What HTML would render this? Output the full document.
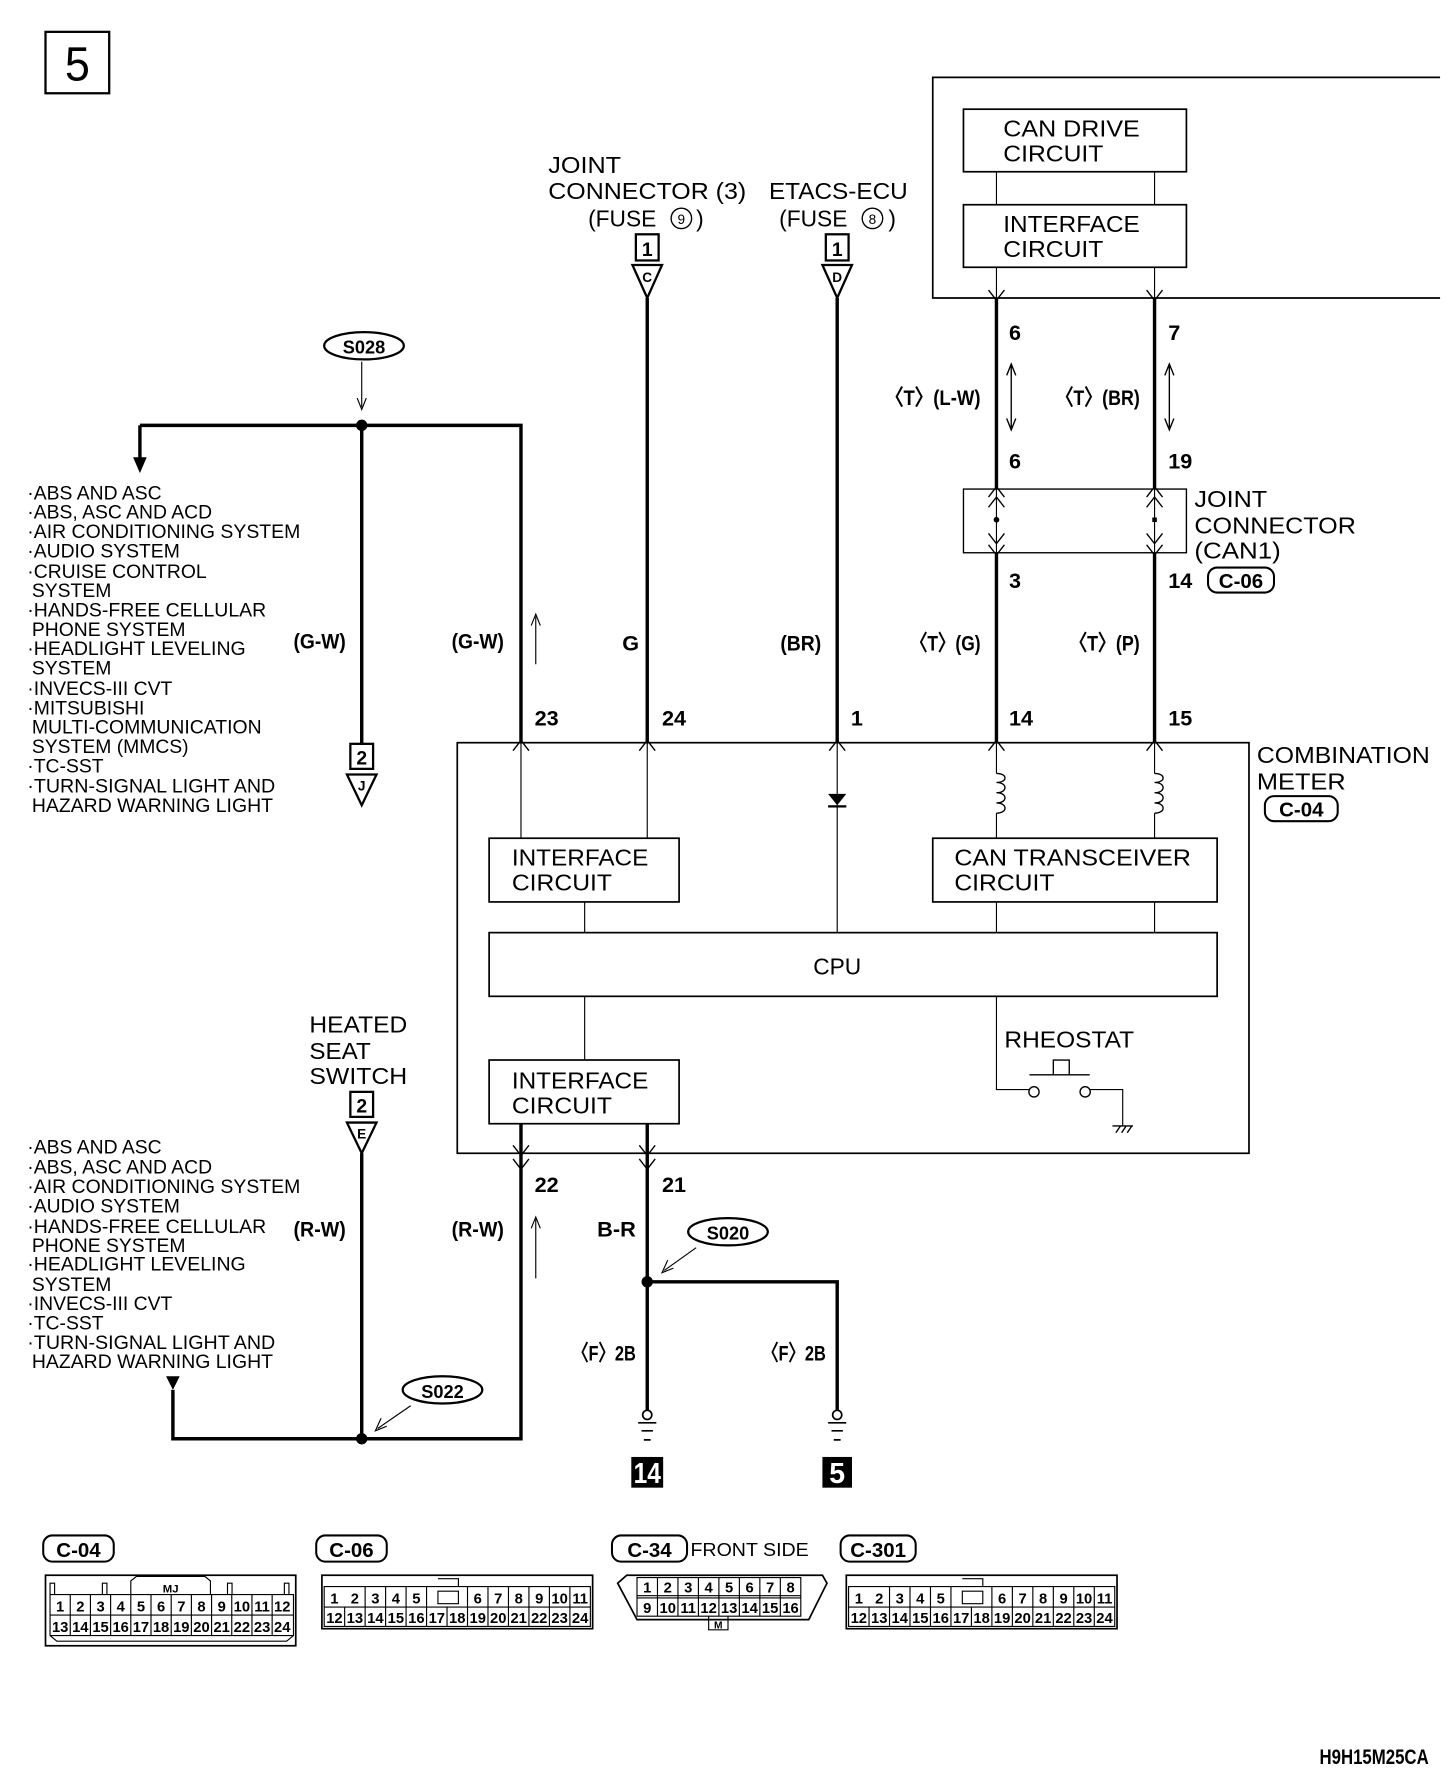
<!DOCTYPE html>
<html><head><meta charset="utf-8"><style>
html,body{margin:0;padding:0;background:#fff}
svg{display:block}
text{font-family:"Liberation Sans Narrow","Liberation Sans",sans-serif;fill:#000}
.b{font-weight:bold}
text.w{fill:#fff}
</style></head><body>
<svg width="1456" height="1772" viewBox="0 0 1280 1558" preserveAspectRatio="none" xmlns="http://www.w3.org/2000/svg">
<rect x="0" y="0" width="1280" height="1558" fill="#fff"/>
<g fill="none" stroke="#000">
<rect x="40" y="28" width="56" height="54" stroke-width="2"/>
<path d="M1266 68H820V262H1266" stroke-width="1.5"/>
<rect x="847" y="96" width="196" height="55" stroke-width="1.5"/>
<rect x="847" y="180" width="196" height="55" stroke-width="1.5"/>
<path d="M876 151V180M1015 151V180M876 235V262M1015 235V262" stroke-width="1"/>
<path d="M876 262V653M1015 262V653" stroke-width="3"/>
<rect x="847" y="430" width="196" height="56" stroke-width="1.2" fill="#fff"/>
<path d="M876 430V486M1015 430V486" stroke-width="1"/>
<path d="M869 255L876 264L883 255M1008 255L1015 264L1022 255M869 437L876 428L883 437M1008 437L1015 428L1022 437M869 446L876 437L883 446M1008 446L1015 437L1022 446M869 469L876 478L883 469M1008 469L1015 478L1022 469M869 479L876 488L883 479M1008 479L1015 488L1022 479" stroke-width="1.2"/>
<path d="M889 322V376M885 330L889 320L893 330M885 368L889 378L893 368M1028 322V376M1024 330L1028 320L1032 330M1024 368L1028 378L1032 368" stroke-width="1.2"/>
<path d="M569 262V653M736 262V653" stroke-width="3"/>
<rect x="559" y="206" width="20" height="23" stroke-width="2"/>
<rect x="726" y="206" width="20" height="23" stroke-width="2"/>
<path d="M556 233H582L569 262ZM723 233H749L736 262Z" stroke-width="2"/>
<ellipse cx="320" cy="304" rx="35" ry="12" stroke-width="2"/>
<path d="M318 318V358" stroke-width="1"/>
<path d="M314 350L318 360L322 350" stroke-width="1"/>
<path d="M123 374H458V653M123 374V405M318 374V655" stroke-width="3"/>
<rect x="308" y="654" width="20" height="22" stroke-width="2"/>
<path d="M305 681H331L318 708Z" stroke-width="2"/>
<path d="M471 542V584M467 550L471 540L475 550" stroke-width="1"/>
<rect x="402" y="653" width="696" height="361" stroke-width="1.5"/>
<path d="M451 660L458 651L465 660M562 660L569 651L576 660M729 660L736 651L743 660M869 660L876 651L883 660M1008 660L1015 651L1022 660" stroke-width="1.2"/>
<path d="M458 653V737M569 653V737M736 653V820M876 653V680M876 715V737M1015 653V680M1015 715V737M514 793V820M876 793V820M1015 793V820M514 876V932M876 876V958H905M958 958H987V990" stroke-width="1"/>
<path d="M876 680c10 0 10 8 0 8c10 0 10 9 0 9c10 0 10 9 0 9c10 0 10 9 0 9M1015 680c10 0 10 8 0 8c10 0 10 9 0 9c10 0 10 9 0 9c10 0 10 9 0 9" stroke-width="1.2"/>
<rect x="430" y="737" width="167" height="56" stroke-width="1.5"/>
<rect x="820" y="737" width="250" height="56" stroke-width="1.5"/>
<rect x="430" y="820" width="640" height="56" stroke-width="1.5"/>
<rect x="430" y="932" width="167" height="56" stroke-width="1.5"/>
<circle cx="909" cy="960" r="4.5" stroke-width="1.2"/>
<circle cx="954" cy="960" r="4.5" stroke-width="1.2"/>
<path d="M905 945H958M926 945V932H940V945" stroke-width="1.2"/>
<path d="M978 990H996M981 996L985 990M986 996L990 990M991 996L995 990" stroke-width="1.2"/>
<path d="M458 988V1265H152V1222M318 1014V1265" stroke-width="3"/>
<path d="M569 988V1240M569 1127H736V1240" stroke-width="3"/>
<path d="M451 1007L458 1016L465 1007M562 1007L569 1016L576 1007M451 1019L458 1028L465 1019M562 1019L569 1028L576 1019" stroke-width="1.2"/>
<rect x="308" y="960" width="20" height="22" stroke-width="2"/>
<path d="M305 987H331L318 1014Z" stroke-width="2"/>
<path d="M471 1072V1124M467 1080L471 1070L475 1080" stroke-width="1"/>
<ellipse cx="640" cy="1083" rx="35" ry="12" stroke-width="2"/>
<path d="M612 1097L584 1117M587 1108L582 1119L592 1115" stroke-width="1"/>
<ellipse cx="389" cy="1222" rx="35" ry="12" stroke-width="2"/>
<path d="M361 1236L332 1256M335 1247L330 1258L340 1254" stroke-width="1"/>
<circle cx="569" cy="1244" r="4" stroke-width="1.5"/>
<circle cx="736" cy="1244" r="4" stroke-width="1.5"/>
<path d="M561 1251H577M564 1258H574M566 1266H572M728 1251H744M731 1258H741M733 1266H739" stroke-width="1.5"/>
<rect x="1062" y="499" width="58" height="22" rx="8" stroke-width="1.8"/>
<rect x="1112" y="700" width="64" height="22" rx="8" stroke-width="1.8"/>
<rect x="38" y="1350" width="62" height="23" rx="8" stroke-width="1.8"/>
<rect x="278" y="1350" width="62" height="23" rx="8" stroke-width="1.8"/>
<rect x="538" y="1350" width="66" height="23" rx="8" stroke-width="1.8"/>
<rect x="739" y="1350" width="66" height="23" rx="8" stroke-width="1.8"/>
<rect x="40" y="1385" width="220" height="62" stroke-width="1.5"/>
<path d="M44 1402H258V1438H44ZM44 1420H258M61.75 1402V1438M79.5 1402V1438M97.25 1402V1438M115 1402V1438M132.75 1402V1438M150.5 1402V1438M168.25 1402V1438M186 1402V1438M203.75 1402V1438M221.5 1402V1438M239.25 1402V1438M44 1438L50 1443H252L258 1438M44 1402V1392H48V1402M90 1402V1392H94V1402M200 1402V1392H204V1402M250 1402V1392H254V1402M115 1402V1390L120 1386H180L185 1390V1402" stroke-width="1"/>
<rect x="283" y="1385" width="238" height="47" stroke-width="1.5"/>
<path d="M285 1395H519V1430H285ZM285 1413H519M303 1413V1430M321 1395V1430M339 1395V1430M357 1395V1430M375 1395V1430M393 1413V1430M411 1395V1430M429 1395V1430M447 1395V1430M465 1395V1430M483 1395V1430M501 1395V1430M385 1399H403V1410H385ZM385 1388H403V1395" stroke-width="1"/>
<rect x="744" y="1385" width="238" height="47" stroke-width="1.5"/>
<path d="M746 1395H980V1430H746ZM746 1413H980M764 1413V1430M782 1395V1430M800 1395V1430M818 1395V1430M836 1395V1430M854 1413V1430M872 1395V1430M890 1395V1430M908 1395V1430M926 1395V1430M944 1395V1430M962 1395V1430M846 1399H864V1410H846ZM846 1388H864V1395" stroke-width="1"/>
<path d="M551 1385H723L727 1392L711 1424H560L543 1392Z" stroke-width="1.5"/>
<path d="M560 1387H704V1421H560ZM560 1403H704M560 1405H704M578 1387V1421M596 1387V1421M614 1387V1421M632 1387V1421M650 1387V1421M668 1387V1421M686 1387V1421M623 1421V1433H640V1421" stroke-width="1"/>
</g>
<g fill="#000">
<circle cx="318" cy="374" r="5"/>
<circle cx="318" cy="1265" r="5"/>
<circle cx="569" cy="1127" r="5"/>
<circle cx="876" cy="457" r="2.5"/>
<rect x="1013" y="455" width="4" height="4"/>
<path d="M117 402H129L123 416Z"/>
<path d="M146 1210H158L152 1222Z"/>
<path d="M728 698H744L736 708Z"/>
<rect x="728" y="708" width="16" height="2"/>
<rect x="555" y="1281" width="28" height="27"/>
<rect x="723" y="1281" width="26" height="27"/>
</g>
<text x="68" y="71" font-size="42" text-anchor="middle" textLength="22" lengthAdjust="spacingAndGlyphs">5</text>
<g font-size="20">
<text x="882" y="120" textLength="120" lengthAdjust="spacingAndGlyphs">CAN DRIVE</text>
<text x="882" y="142" textLength="88" lengthAdjust="spacingAndGlyphs">CIRCUIT</text>
<text x="882" y="204" textLength="120" lengthAdjust="spacingAndGlyphs">INTERFACE</text>
<text x="882" y="226" textLength="88" lengthAdjust="spacingAndGlyphs">CIRCUIT</text>
<text x="482" y="152" textLength="64" lengthAdjust="spacingAndGlyphs">JOINT</text>
<text x="482" y="175" textLength="174" lengthAdjust="spacingAndGlyphs">CONNECTOR (3)</text>
<text x="517" y="199">(FUSE</text><text x="612" y="199">)</text>
<text x="676" y="175" textLength="122" lengthAdjust="spacingAndGlyphs">ETACS-ECU</text>
<text x="685" y="199">(FUSE</text><text x="781" y="199">)</text>
<text x="1050" y="446" textLength="64" lengthAdjust="spacingAndGlyphs">JOINT</text>
<text x="1050" y="469" textLength="142" lengthAdjust="spacingAndGlyphs">CONNECTOR</text>
<text x="1050" y="491" textLength="76" lengthAdjust="spacingAndGlyphs">(CAN1)</text>
<text x="1105" y="671" textLength="152" lengthAdjust="spacingAndGlyphs">COMBINATION</text>
<text x="1105" y="694" textLength="78" lengthAdjust="spacingAndGlyphs">METER</text>
<text x="450" y="761" textLength="120" lengthAdjust="spacingAndGlyphs">INTERFACE</text>
<text x="450" y="783" textLength="88" lengthAdjust="spacingAndGlyphs">CIRCUIT</text>
<text x="839" y="761" textLength="208" lengthAdjust="spacingAndGlyphs">CAN TRANSCEIVER</text>
<text x="839" y="783" textLength="88" lengthAdjust="spacingAndGlyphs">CIRCUIT</text>
<text x="736" y="857" text-anchor="middle">CPU</text>
<text x="883" y="921" textLength="114" lengthAdjust="spacingAndGlyphs">RHEOSTAT</text>
<text x="450" y="957" textLength="120" lengthAdjust="spacingAndGlyphs">INTERFACE</text>
<text x="450" y="979" textLength="88" lengthAdjust="spacingAndGlyphs">CIRCUIT</text>
<text x="272" y="908" textLength="86" lengthAdjust="spacingAndGlyphs">HEATED</text>
<text x="272" y="931" textLength="54" lengthAdjust="spacingAndGlyphs">SEAT</text>
<text x="272" y="953" textLength="86" lengthAdjust="spacingAndGlyphs">SWITCH</text>
</g>
<g font-size="12" text-anchor="middle">
<circle cx="599" cy="192" r="9" fill="none" stroke="#000" stroke-width="1.2"/><text x="599" y="197">9</text>
<circle cx="767" cy="192" r="9" fill="none" stroke="#000" stroke-width="1.2"/><text x="767" y="197">8</text>
</g>
<g class="b" font-size="17" text-anchor="middle">
<text x="569" y="225">1</text><text x="736" y="225">1</text>
<text x="318" y="672">2</text><text x="318" y="978">2</text>
</g>
<g class="b" font-size="12" text-anchor="middle">
<text x="569" y="248">C</text><text x="736" y="248">D</text>
<text x="318" y="695">J</text><text x="318" y="1001">E</text>
</g>
<g class="b" font-size="19">
<text x="887" y="299">6</text><text x="1027" y="299">7</text>
<text x="887" y="412">6</text><text x="1027" y="412">19</text>
<text x="887" y="517">3</text><text x="1027" y="517">14</text>
<text x="470" y="638">23</text><text x="582" y="638">24</text><text x="748" y="638">1</text>
<text x="887" y="638">14</text><text x="1027" y="638">15</text>
<text x="470" y="1048">22</text><text x="582" y="1048">21</text>
<text x="778" y="356" textLength="84" lengthAdjust="spacingAndGlyphs">〈T〉(L-W)</text>
<text x="928" y="356" textLength="74" lengthAdjust="spacingAndGlyphs">〈T〉(BR)</text>
<text x="800" y="572" textLength="62" lengthAdjust="spacingAndGlyphs">〈T〉(G)</text>
<text x="940" y="572" textLength="62" lengthAdjust="spacingAndGlyphs">〈T〉(P)</text>
<text x="258" y="570" textLength="46" lengthAdjust="spacingAndGlyphs">(G-W)</text>
<text x="397" y="570" textLength="46" lengthAdjust="spacingAndGlyphs">(G-W)</text>
<text x="547" y="572">G</text>
<text x="686" y="572" textLength="36" lengthAdjust="spacingAndGlyphs">(BR)</text>
<text x="258" y="1087" textLength="46" lengthAdjust="spacingAndGlyphs">(R-W)</text>
<text x="397" y="1087" textLength="46" lengthAdjust="spacingAndGlyphs">(R-W)</text>
<text x="525" y="1087" textLength="34" lengthAdjust="spacingAndGlyphs">B-R</text>
<text x="503" y="1196" textLength="56" lengthAdjust="spacingAndGlyphs">〈F〉2B</text>
<text x="670" y="1196" textLength="56" lengthAdjust="spacingAndGlyphs">〈F〉2B</text>
<text x="1160" y="1551" textLength="96" lengthAdjust="spacingAndGlyphs">H9H15M25CA</text>
</g>
<g class="b" font-size="18" text-anchor="middle">
<text x="1091" y="517">C-06</text>
<text x="1144" y="718">C-04</text>
<text x="69" y="1369">C-04</text>
<text x="309" y="1369">C-06</text>
<text x="571" y="1369">C-34</text>
<text x="772" y="1369">C-301</text>
<text x="320" y="311" font-size="16">S028</text>
<text x="640" y="1090" font-size="16">S020</text>
<text x="389" y="1229" font-size="16">S022</text>
<text class="w" x="569" y="1304" font-size="25" textLength="24" lengthAdjust="spacingAndGlyphs">14</text>
<text class="w" x="736" y="1304" font-size="25">5</text>
</g>
<text x="607" y="1368" font-size="16" textLength="104" lengthAdjust="spacingAndGlyphs">FRONT SIDE</text>
<g font-size="17">
<text x="24" y="439">·ABS AND ASC</text>
<text x="24" y="456">·ABS, ASC AND ACD</text>
<text x="24" y="473" textLength="240" lengthAdjust="spacingAndGlyphs">·AIR CONDITIONING SYSTEM</text>
<text x="24" y="490">·AUDIO SYSTEM</text>
<text x="24" y="508">·CRUISE CONTROL</text>
<text x="28" y="525">SYSTEM</text>
<text x="24" y="542" textLength="210" lengthAdjust="spacingAndGlyphs">·HANDS-FREE CELLULAR</text>
<text x="28" y="559">PHONE SYSTEM</text>
<text x="24" y="576" textLength="192" lengthAdjust="spacingAndGlyphs">·HEADLIGHT LEVELING</text>
<text x="28" y="593">SYSTEM</text>
<text x="24" y="611">·INVECS-III CVT</text>
<text x="24" y="628">·MITSUBISHI</text>
<text x="28" y="645" textLength="202" lengthAdjust="spacingAndGlyphs">MULTI-COMMUNICATION</text>
<text x="28" y="662">SYSTEM (MMCS)</text>
<text x="24" y="679">·TC-SST</text>
<text x="24" y="697" textLength="218" lengthAdjust="spacingAndGlyphs">·TURN-SIGNAL LIGHT AND</text>
<text x="28" y="714" textLength="212" lengthAdjust="spacingAndGlyphs">HAZARD WARNING LIGHT</text>
<text x="24" y="1014">·ABS AND ASC</text>
<text x="24" y="1032">·ABS, ASC AND ACD</text>
<text x="24" y="1049" textLength="240" lengthAdjust="spacingAndGlyphs">·AIR CONDITIONING SYSTEM</text>
<text x="24" y="1066">·AUDIO SYSTEM</text>
<text x="24" y="1084" textLength="210" lengthAdjust="spacingAndGlyphs">·HANDS-FREE CELLULAR</text>
<text x="28" y="1101">PHONE SYSTEM</text>
<text x="24" y="1117" textLength="192" lengthAdjust="spacingAndGlyphs">·HEADLIGHT LEVELING</text>
<text x="28" y="1135">SYSTEM</text>
<text x="24" y="1152">·INVECS-III CVT</text>
<text x="24" y="1169">·TC-SST</text>
<text x="24" y="1186" textLength="218" lengthAdjust="spacingAndGlyphs">·TURN-SIGNAL LIGHT AND</text>
<text x="28" y="1203" textLength="212" lengthAdjust="spacingAndGlyphs">HAZARD WARNING LIGHT</text>
</g>
<g class="b" font-size="13" text-anchor="middle">
<text x="150" y="1400" font-size="10">MJ</text>
<text x="52.9" y="1417">1</text><text x="70.6" y="1417">2</text><text x="88.4" y="1417">3</text><text x="106.1" y="1417">4</text><text x="123.9" y="1417">5</text><text x="141.6" y="1417">6</text><text x="159.4" y="1417">7</text><text x="177.1" y="1417">8</text><text x="194.9" y="1417">9</text><text x="212.6" y="1417">10</text><text x="230.4" y="1417">11</text><text x="248.1" y="1417">12</text>
<text x="52.9" y="1435">13</text><text x="70.6" y="1435">14</text><text x="88.4" y="1435">15</text><text x="106.1" y="1435">16</text><text x="123.9" y="1435">17</text><text x="141.6" y="1435">18</text><text x="159.4" y="1435">19</text><text x="177.1" y="1435">20</text><text x="194.9" y="1435">21</text><text x="212.6" y="1435">22</text><text x="230.4" y="1435">23</text><text x="248.1" y="1435">24</text>
<text x="294" y="1410">1</text><text x="312" y="1410">2</text><text x="330" y="1410">3</text><text x="348" y="1410">4</text><text x="366" y="1410">5</text><text x="420" y="1410">6</text><text x="438" y="1410">7</text><text x="456" y="1410">8</text><text x="474" y="1410">9</text><text x="492" y="1410">10</text><text x="510" y="1410">11</text>
<text x="294" y="1427">12</text><text x="312" y="1427">13</text><text x="330" y="1427">14</text><text x="348" y="1427">15</text><text x="366" y="1427">16</text><text x="384" y="1427">17</text><text x="402" y="1427">18</text><text x="420" y="1427">19</text><text x="438" y="1427">20</text><text x="456" y="1427">21</text><text x="474" y="1427">22</text><text x="492" y="1427">23</text><text x="510" y="1427">24</text>
<text x="755" y="1410">1</text><text x="773" y="1410">2</text><text x="791" y="1410">3</text><text x="809" y="1410">4</text><text x="827" y="1410">5</text><text x="881" y="1410">6</text><text x="899" y="1410">7</text><text x="917" y="1410">8</text><text x="935" y="1410">9</text><text x="953" y="1410">10</text><text x="971" y="1410">11</text>
<text x="755" y="1427">12</text><text x="773" y="1427">13</text><text x="791" y="1427">14</text><text x="809" y="1427">15</text><text x="827" y="1427">16</text><text x="845" y="1427">17</text><text x="863" y="1427">18</text><text x="881" y="1427">19</text><text x="899" y="1427">20</text><text x="917" y="1427">21</text><text x="935" y="1427">22</text><text x="953" y="1427">23</text><text x="971" y="1427">24</text>
<text x="569" y="1400">1</text><text x="587" y="1400">2</text><text x="605" y="1400">3</text><text x="623" y="1400">4</text><text x="641" y="1400">5</text><text x="659" y="1400">6</text><text x="677" y="1400">7</text><text x="695" y="1400">8</text>
<text x="569" y="1418">9</text><text x="587" y="1418">10</text><text x="605" y="1418">11</text><text x="623" y="1418">12</text><text x="641" y="1418">13</text><text x="659" y="1418">14</text><text x="677" y="1418">15</text><text x="695" y="1418">16</text>
<text x="631.5" y="1432" font-size="9">M</text>
</g>
</svg>
</body></html>
